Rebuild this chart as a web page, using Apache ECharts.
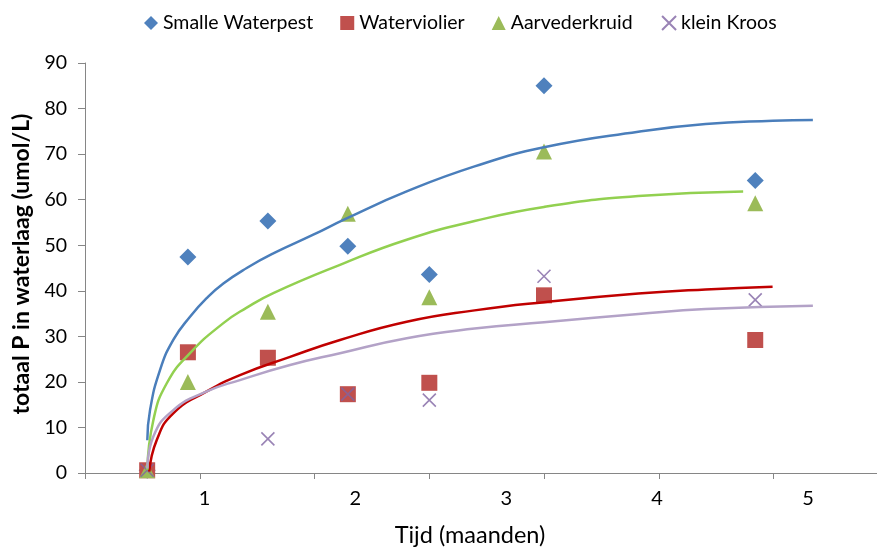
<!DOCTYPE html>
<html>
<head>
<meta charset="utf-8">
<script src="https://cdn.jsdelivr.net/npm/echarts@6/dist/echarts.min.js"></script>
<style>
  html, body { margin: 0; padding: 0; background: #fff; }
  #chart { width: 877px; height: 550px; }
</style>
</head>
<body>
<div id="chart"></div>
<script>
// Sampling times (months)
const times = [0.62, 0.89, 1.42, 1.95, 2.49, 3.25, 4.65];

// Total P in the water layer (umol/L) per plant species
const smalleWaterpest = [0.6, 47.4, 55.3, 49.8, 43.6, 85.0, 64.2];
const waterviolier    = [0.6, 26.5, 25.3, 17.3, 19.8, 39.0, 29.2];
const aarvederkruid   = [0.6, 20.0, 35.4, 56.9, 38.6, 70.6, 59.2];
const kleinKroos      = [0.6, null, 7.5, 17.3, 16.0, 43.2, 38.0];

// Trend curves per species: [time, total P]
const trendWaterpest = [
  [0.621, 7.2], [0.639, 13.8], [0.705, 22.6], [0.793, 29.2], [0.904, 34.3],
  [1.015, 38.4], [1.125, 41.6], [1.28, 45.0], [1.456, 48.2], [1.721, 52.3], [1.942, 55.9], [2.340, 61.8],
  [2.79, 67.3], [3.250, 71.5], [3.875, 74.9], [4.321, 76.6], [4.767, 77.3], [5.032, 77.5]
];
const trendWaterviolier = [
  [0.634, 0.3], [0.683, 7.2], [0.793, 13.1], [1.015, 17.9], [1.235, 21.5],
  [1.567, 25.5], [1.898, 29.2], [2.340, 33.2], [2.79, 35.7], [3.250, 37.5],
  [3.875, 39.4], [4.321, 40.3], [4.765, 40.9]
];
const trendAarvederkruid = [
  [0.621, 0.7], [0.661, 11.6], [0.750, 19.7], [0.904, 26.3], [1.125, 32.9],
  [1.28, 36.3], [1.456, 39.5], [1.898, 45.7], [2.340, 51.2], [2.79, 55.3], [3.250, 58.4],
  [3.875, 60.8], [4.57, 61.8]
];
const trendKleinKroos = [
  [0.621, 1.0], [0.661, 8.0], [0.793, 13.8], [1.015, 17.9], [1.235, 20.4],
  [1.567, 23.7], [1.898, 26.3], [2.340, 29.6], [2.79, 31.7], [3.250, 33.1],
  [3.875, 34.9], [4.321, 36.0], [5.032, 36.7]
];

// Axis ticks and labels
const xLabelValues = [1, 2, 3, 4, 5];
const xTickValues = [0.208, 0.969, 1.729, 2.490, 3.250, 4.011, 4.771];
const yMin = 0, yMax = 90, yStep = 10;

const FONT = 'Lato';
const AXIS_GREY = '#868686';
const crossPath = 'path://M0,0L10,10M10,0L0,10';

function pairs(ys) {
  return times.map((t, i) => [t, ys[i] == null ? '-' : ys[i]]);
}

function scatter(name, ys, symbol, size, color, extra) {
  return Object.assign({
    name, type: 'scatter', data: pairs(ys), symbol, symbolSize: size,
    itemStyle: { color, opacity: 1 }, z: 3
  }, extra || {});
}

function trend(name, pts, color) {
  return {
    name, type: 'line', data: pts, smooth: 0.5, symbol: 'none',
    lineStyle: { color, width: 2.5 }, z: 5, silent: true
  };
}

const chart = echarts.init(document.getElementById('chart'), null, { renderer: 'canvas' });
chart.setOption({
  animation: false,
  backgroundColor: '#fff',
  textStyle: { fontFamily: FONT },
  grid: { left: 85, right: 0, top: 63, bottom: 77, containLabel: false, outerBoundsMode: 'none' },
  legend: {
    top: 8, left: 139, itemGap: 27, itemWidth: 14, itemHeight: 14,
    textStyle: { fontSize: 19.5, color: '#000', fontFamily: FONT },
    data: [
      { name: 'Smalle Waterpest', icon: 'diamond' },
      { name: 'Waterviolier', icon: 'rect' },
      { name: 'Aarvederkruid', icon: 'triangle' },
      { name: 'klein Kroos', icon: crossPath }
    ]
  },
  xAxis: {
    type: 'value', min: 0.208, max: 5.457,
    axisLine: { show: true, lineStyle: { color: AXIS_GREY, width: 1 } },
    axisTick: { show: true, customValues: xTickValues, length: 6, lineStyle: { color: AXIS_GREY } },
    axisLabel: { customValues: xLabelValues, fontSize: 20, color: '#000', margin: 16 },
    splitLine: { show: false },
    name: 'Tijd (maanden)', nameLocation: 'middle', nameGap: 50,
    nameTextStyle: { fontSize: 23.5, color: '#000', padding: [0, 22, 0, 0] }
  },
  yAxis: {
    type: 'value', min: yMin, max: yMax, interval: yStep,
    axisLine: { show: true, lineStyle: { color: AXIS_GREY, width: 1 } },
    axisTick: { show: true, length: 7, lineStyle: { color: AXIS_GREY } },
    axisLabel: { fontSize: 19.5, color: '#000', margin: 18 },
    splitLine: { show: false },
    name: 'totaal P in waterlaag (umol/L)', nameLocation: 'middle', nameGap: 46,
    nameTextStyle: { fontSize: 23, fontWeight: 'bold', color: '#000', padding: [0, 0, 0, 8] }
  },
  series: [
    scatter('Smalle Waterpest', smalleWaterpest, 'diamond', 17, '#4f81bd'),
    scatter('Waterviolier', waterviolier, 'rect', 16, '#c0504d'),
    scatter('Aarvederkruid', aarvederkruid, 'triangle', 16, '#9bbb59'),
    scatter('klein Kroos', kleinKroos, crossPath, 13, '#8064a2', {
      itemStyle: { color: 'none', borderColor: '#8064a2', borderWidth: 1.6 }
    }),
    trend('trend Smalle Waterpest', trendWaterpest, '#4a7ebb'),
    trend('trend Waterviolier', trendWaterviolier, '#c00000'),
    trend('trend Aarvederkruid', trendAarvederkruid, '#92d050'),
    trend('trend klein Kroos', trendKleinKroos, '#b3a2c7')
  ]
});
</script>
</body>
</html>
